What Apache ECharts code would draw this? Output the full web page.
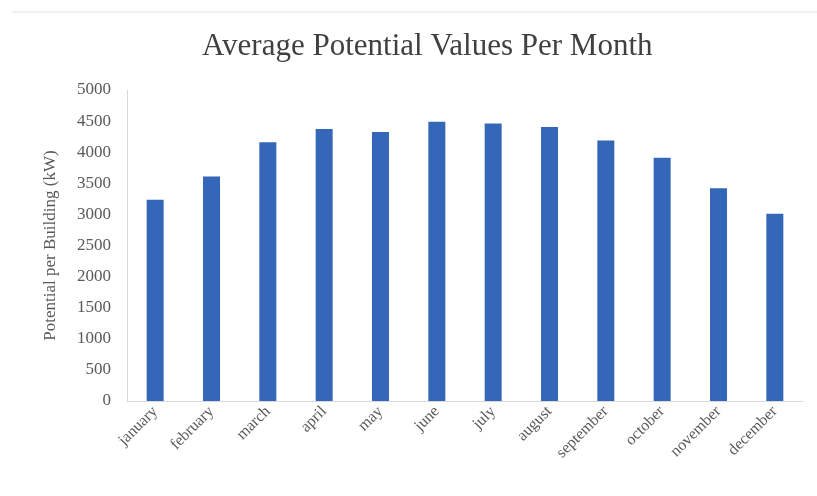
<!DOCTYPE html>
<html>
<head>
<meta charset="utf-8">
<script src="https://cdn.jsdelivr.net/npm/echarts@6/dist/echarts.min.js"></script>
<style>
html, body { margin: 0; padding: 0; background: #fff; }
#chart { width: 817px; height: 496px; }
</style>
</head>
<body>
<div id="chart"></div>
<script>
var months = ['january', 'february', 'march', 'april', 'may', 'june', 'july', 'august', 'september', 'october', 'november', 'december'];
var potential = [3235, 3610, 4160, 4375, 4325, 4490, 4460, 4405, 4190, 3910, 3420, 3010];
var yTicks = { min: 0, max: 5000, interval: 500 };

var serif = '"Liberation Serif", "DejaVu Serif", serif';
var chart = echarts.init(document.getElementById('chart'));
chart.setOption({
    animation: false,
    graphic: [{
        type: 'line',
        shape: { x1: 12, y1: 12, x2: 817, y2: 12 },
        style: { stroke: '#e0e0e0', lineWidth: 1 }
    }],
    title: {
        text: 'Average Potential Values Per Month',
        left: 197,
        top: 26,
        textStyle: { fontFamily: serif, fontSize: 31, fontWeight: 'normal', color: '#404040' }
    },
    grid: { left: 127, right: 14, top: 90, bottom: 95 },
    xAxis: {
        type: 'category',
        data: months,
        axisLine: { lineStyle: { color: '#d9d9d9' } },
        axisTick: { show: false },
        axisLabel: { rotate: 45, interval: 0, fontFamily: serif, fontSize: 16, color: '#595959', margin: 8 }
    },
    yAxis: {
        type: 'value',
        min: yTicks.min,
        max: yTicks.max,
        interval: yTicks.interval,
        name: 'Potential per Building (kW)',
        nameLocation: 'middle',
        nameGap: 68,
        nameTextStyle: { fontFamily: serif, fontSize: 17, color: '#595959' },
        axisLine: { show: true, lineStyle: { color: '#d9d9d9' } },
        axisTick: { show: false },
        splitLine: { show: false },
        axisLabel: {
            fontFamily: serif, fontSize: 17, color: '#595959', margin: 16,
            formatter: function (v) { return String(v); }
        }
    },
    series: [{
        type: 'bar',
        data: potential,
        barWidth: 17,
        itemStyle: { color: '#3567B9' }
    }]
});
</script>
</body>
</html>
